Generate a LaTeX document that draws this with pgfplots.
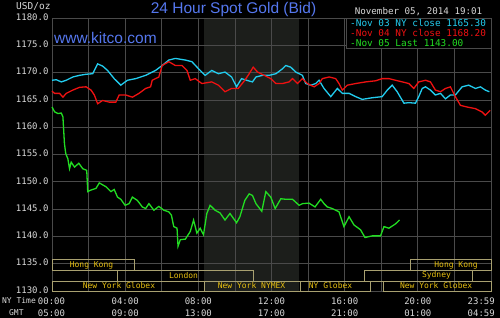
\documentclass[border=0pt]{standalone}
\usepackage{pgfplots}
\pgfplotsset{compat=1.18}
\usepackage{fontspec}
\setmainfont{Liberation Sans}
\setmonofont{DejaVu Sans Mono}
\definecolor{titleblue}{HTML}{5577EE}
\definecolor{cyanline}{HTML}{22CCEE}
\definecolor{redline}{HTML}{EE1111}
\definecolor{greenline}{HTML}{22DD22}
\definecolor{sesstext}{HTML}{E8C010}
\definecolor{sessbox}{HTML}{A8A070}
\definecolor{gridc}{HTML}{4A4A4A}
\definecolor{shadec}{HTML}{1C1E1B}
\definecolor{labc}{HTML}{D8D8D8}
\newcommand{\mono}[1]{\ttfamily\fontsize{#1}{#1}\selectfont}
\begin{document}
\begin{tikzpicture}
\begin{axis}[
  name=ax,
  scale only axis, width=439pt, height=273pt,
  set layers=standard,
  xmin=0, xmax=24, ymin=1130, ymax=1180,
  xtick={0,2,...,24}, xticklabels={},
  ytick={1130,1135,...,1180},
  major tick length=0pt,
  grid=major, major grid style={draw=gridc, line width=0.7pt},
  axis line style={draw=gridc, line width=0.7pt},
  /pgf/number format/assume math mode=true,
  yticklabel={\pgfmathprintnumber[fixed,fixed zerofill,precision=1,1000 sep={}]{\tick}},
  yticklabel style={font=\mono{9}, text=labc, yshift=1pt},
  clip=false,
]
\addplot[fill=black, draw=none, on layer=axis background] coordinates {(-3.2,1124.8) (-3.2,1183.8) (24.8,1183.8) (24.8,1124.8)} -- cycle;
\addplot[fill=shadec, draw=none, on layer=axis background] coordinates {(8.33,1130) (8.33,1180) (13.5,1180) (13.5,1130)} -- cycle;
\coordinate (Z) at (axis cs:-2.843,1125.24);

\addplot[cyanline, line width=1.3pt] coordinates {
(0,1168.6) (0.235,1168.7) (0.506,1168.3) (0.778,1168.6) (1.139,1169.2) (1.501,1169.5) (1.863,1169.7) (2.224,1169.8) (2.495,1171.6) (2.767,1171.2) (3.038,1170.4) (3.400,1168.9) (3.761,1167.7) (4.123,1168.6) (4.575,1168.9) (5.118,1169.5) (5.660,1170.4) (6.022,1171.3) (6.383,1172.3) (6.745,1172.6) (7.288,1172.3) (7.649,1172.0) (8.011,1170.7) (8.373,1169.5) (8.734,1170.4) (9.096,1169.8) (9.458,1170.1) (9.819,1169.2) (10.090,1167.4) (10.362,1168.9) (10.633,1168.6) (10.96,1168.3) (11.15,1169.2) (11.51,1169.5) (11.87,1169.5) (12.24,1169.8) (12.6,1170.7) (12.78,1171.3) (13.05,1171.0) (13.33,1170.1) (13.69,1169.5) (13.87,1168.0) (14.15,1167.7) (14.42,1168.0) (14.6,1168.6) (14.87,1167.1) (15.24,1165.6) (15.6,1167.1) (15.87,1166.2) (16.24,1166.2) (16.6,1165.6) (16.96,1165.1) (17.51,1165.4) (18.05,1165.6) (18.33,1166.8) (18.6,1167.7) (18.87,1166.5) (19.24,1164.4) (19.51,1164.5) (19.87,1164.4) (20.05,1165.6) (20.24,1167.1) (20.42,1167.4) (20.69,1166.8) (20.96,1165.9) (21.24,1166.2) (21.51,1165.2) (21.78,1165.9) (22.05,1165.9) (22.42,1167.4) (22.78,1167.7) (23.15,1167.1) (23.42,1167.4) (23.69,1166.8) (23.91,1166.5)
};
\addplot[redline, line width=1.3pt] coordinates {
(0,1166.6) (0.145,1166.2) (0.416,1166.2) (0.597,1165.5) (0.778,1166.2) (1.139,1166.8) (1.501,1167.3) (1.863,1167.4) (2.134,1166.8) (2.315,1165.9) (2.495,1164.3) (2.767,1164.9) (3.128,1164.6) (3.490,1164.6) (3.671,1165.9) (4.033,1165.9) (4.394,1165.5) (4.756,1166.2) (5.118,1167.1) (5.389,1167.4) (5.479,1168.6) (5.841,1169.2) (6.022,1171.3) (6.383,1172.0) (6.745,1171.3) (7.107,1171.3) (7.378,1170.4) (7.559,1168.6) (7.830,1168.9) (8.192,1168.0) (8.734,1168.3) (9.096,1167.7) (9.458,1166.5) (9.819,1167.1) (10.181,1167.1) (10.542,1168.6) (10.78,1169.8) (11.0,1171.0) (11.24,1170.1) (11.6,1169.5) (11.96,1168.9) (12.24,1168.0) (12.6,1168.0) (12.96,1168.3) (13.15,1168.9) (13.42,1168.0) (13.69,1168.9) (13.96,1168.0) (14.33,1167.4) (14.6,1168.0) (14.78,1168.9) (15.15,1169.2) (15.51,1168.9) (15.69,1168.0) (15.87,1166.8) (16.15,1167.7) (16.6,1168.0) (17.15,1168.3) (17.69,1168.5) (18.05,1168.9) (18.42,1168.9) (18.78,1168.6) (19.15,1168.3) (19.51,1168.0) (19.78,1167.1) (20.05,1168.3) (20.42,1168.6) (20.69,1168.3) (20.96,1166.8) (21.24,1166.5) (21.51,1167.1) (21.78,1167.4) (22.05,1165.6) (22.33,1164.0) (22.69,1163.7) (23.15,1163.4) (23.51,1162.8) (23.69,1162.2) (23.96,1163.1)
};
\addplot[greenline, line width=1.3pt] coordinates {
(0,1163.7) (0.145,1162.8) (0.325,1162.5) (0.506,1162.6) (0.597,1161.9) (0.68,1157.0) (0.75,1155.2) (0.868,1154.2) (0.958,1152.4) (1.049,1153.6) (1.230,1152.7) (1.465,1153.4) (1.682,1152.4) (1.899,1152.1) (1.953,1148.2) (2.134,1148.5) (2.405,1148.8) (2.586,1149.8) (2.948,1149.1) (3.219,1148.2) (3.400,1148.6) (3.580,1147.2) (3.761,1146.8) (3.996,1145.7) (4.213,1146.0) (4.394,1147.2) (4.665,1146.6) (4.937,1145.4) (5.118,1145.1) (5.298,1146.0) (5.570,1144.8) (5.841,1145.5) (6.112,1144.8) (6.383,1144.5) (6.528,1143.9) (6.655,1141.8) (6.835,1141.5) (6.890,1138.2) (7.016,1139.4) (7.288,1139.5) (7.559,1140.9) (7.740,1143.0) (7.920,1140.6) (8.101,1141.5) (8.282,1140.3) (8.463,1144.2) (8.644,1145.7) (8.915,1144.8) (9.186,1144.3) (9.458,1143.0) (9.729,1144.2) (10.090,1142.5) (10.271,1143.6) (10.542,1146.6) (10.78,1147.8) (10.96,1147.5) (11.15,1146.0) (11.47,1144.6) (11.69,1148.2) (11.96,1147.2) (12.2,1145.1) (12.51,1146.9) (12.78,1146.8) (13.15,1146.8) (13.51,1145.7) (13.69,1146.0) (14.05,1146.1) (14.38,1145.4) (14.69,1146.8) (14.87,1146.0) (15.05,1145.4) (15.33,1145.1) (15.69,1144.5) (15.96,1141.8) (16.24,1143.6) (16.51,1142.1) (16.87,1141.2) (17.11,1139.8) (17.51,1140.1) (17.96,1140.1) (18.15,1141.8) (18.42,1141.5) (18.78,1142.3) (19.0,1143.0)
};

% trading sessions
\draw[sessbox, line width=0.8pt] (axis cs:0,1133.8) rectangle (axis cs:4.48,1135.7);
\draw[sessbox, line width=0.8pt] (axis cs:19.57,1133.8) rectangle (axis cs:24,1135.7);
\draw[sessbox, line width=0.8pt] (axis cs:3.55,1131.85) rectangle (axis cs:10.99,1133.8);
\draw[sessbox, line width=0.8pt] (axis cs:17.06,1131.85) rectangle (axis cs:22.96,1133.8);
\draw[sessbox, line width=0.8pt] (axis cs:0,1130) rectangle (axis cs:8.31,1131.85);
\draw[sessbox, line width=0.8pt] (axis cs:8.31,1130) rectangle (axis cs:13.56,1131.85);
\draw[sessbox, line width=0.8pt] (axis cs:13.56,1130) rectangle (axis cs:17.39,1131.85);
\draw[sessbox, line width=0.8pt] (axis cs:18.1,1130) rectangle (axis cs:24,1131.85);
\node[font=\mono{8}, text=sesstext, inner sep=0pt] at (axis cs:2.16,1134.75) {Hong Kong};
\node[font=\mono{8}, text=sesstext, inner sep=0pt] at (axis cs:22.09,1134.75) {Hong Kong};
\node[font=\mono{8}, text=sesstext, inner sep=0pt] at (axis cs:7.19,1132.83) {London};
\node[font=\mono{8}, text=sesstext, inner sep=0pt] at (axis cs:21.02,1132.83) {Sydney};
\node[font=\mono{8}, text=sesstext, inner sep=0pt] at (axis cs:3.66,1130.93) {New York Globex};
\node[font=\mono{8}, text=sesstext, inner sep=0pt] at (axis cs:10.91,1130.93) {New York NYMEX};
\node[font=\mono{8}, text=sesstext, inner sep=0pt] at (axis cs:15.23,1130.93) {NY Globex};
\node[font=\mono{8}, text=sesstext, inner sep=0pt] at (axis cs:21.0,1130.93) {New York Globex};
\end{axis}

\begin{scope}[shift={(Z)}, x=1pt, y=1pt]
% legend box
\fill[black] (346,269) rectangle (491,299);
\draw[gridc, line width=0.7pt] (346,269) rectangle (491,299);
\node[anchor=west, inner sep=0pt, font=\mono{9.4}, text=cyanline] at (350,293.7) {-Nov 03 NY close 1165.30};
\node[anchor=west, inner sep=0pt, font=\mono{9.4}, text=redline] at (350,283.9) {-Nov 04 NY close 1168.20};
\node[anchor=west, inner sep=0pt, font=\mono{9.4}, text=greenline] at (350,274.1) {-Nov 05 Last 1143.00};

% titles
\node[anchor=base, inner sep=0pt, font=\fontsize{15.5}{15.5}\selectfont, text=titleblue] at (233.5,303.7) {24 Hour Spot Gold (Bid)};
\node[anchor=base west, inner sep=0pt, font=\fontsize{15.5}{15.5}\selectfont, text=titleblue] at (54,273.7) {www.kitco.com};
\node[anchor=west, inner sep=0pt, font=\mono{9.5}, text=labc] at (16,310.3) {USD/oz};
\node[inner sep=0pt, font=\mono{9.2}, text=labc] at (418.5,305.3) {November 05, 2014 19:01};

% time labels
\node[inner sep=0pt, font=\mono{9}, text=labc] at (51.5,16) {00:00};
\node[inner sep=0pt, font=\mono{9}, text=labc] at (125.2,16) {04:00};
\node[inner sep=0pt, font=\mono{9}, text=labc] at (198.3,16) {08:00};
\node[inner sep=0pt, font=\mono{9}, text=labc] at (271.5,16) {12:00};
\node[inner sep=0pt, font=\mono{9}, text=labc] at (344.7,16) {16:00};
\node[inner sep=0pt, font=\mono{9}, text=labc] at (417.8,16) {20:00};
\node[anchor=east, inner sep=0pt, font=\mono{9}, text=labc] at (495,16) {23:59};
\node[inner sep=0pt, font=\mono{9}, text=labc] at (51.5,4) {05:00};
\node[inner sep=0pt, font=\mono{9}, text=labc] at (125.2,4) {09:00};
\node[inner sep=0pt, font=\mono{9}, text=labc] at (198.3,4) {13:00};
\node[inner sep=0pt, font=\mono{9}, text=labc] at (271.5,4) {17:00};
\node[inner sep=0pt, font=\mono{9}, text=labc] at (344.7,4) {21:00};
\node[inner sep=0pt, font=\mono{9}, text=labc] at (417.8,4) {01:00};
\node[anchor=east, inner sep=0pt, font=\mono{9}, text=labc] at (495,4) {04:59};
\node[inner sep=0pt, font=\mono{8}, text=labc] at (19,16) {NY Time};
\node[inner sep=0pt, font=\mono{8}, text=labc] at (16.4,4) {GMT};
\end{scope}

\pgfresetboundingbox
\useasboundingbox (Z) rectangle ([shift={(500pt,317pt)}]Z);
\end{tikzpicture}
\end{document}
